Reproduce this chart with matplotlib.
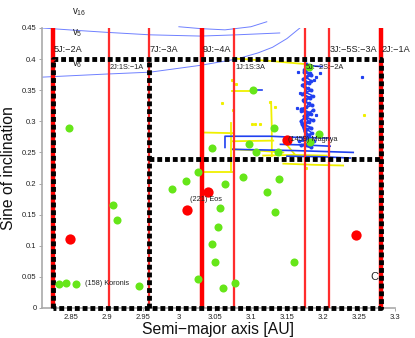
import numpy as np
import matplotlib
matplotlib.use("Agg")
import matplotlib.pyplot as plt

plt.rcParams['font.family'] = ['Liberation Sans', 'DejaVu Sans']

# resonances: position [AU], label, thick?, label height
res_a = [2.825, 2.903, 2.958, 3.032, 3.077, 3.175, 3.208, 3.280]
res_lab = ['5J:\u22122A', '2J:1S:\u22121A', '7J:\u22123A', '9J:\u22124A',
           '1J:1S:3A', '5J:\u22122S:\u22122A', '3J:\u22125S:\u22123A', '2J:\u22121A']
res_thick = [True, False, False, True, False, False, False, True]
res_laby = [0.416, 0.387, 0.416, 0.416, 0.387, 0.387, 0.416, 0.416]
res_small = [False, True, False, False, True, True, False, False]

# secular resonance curves
v5_a = [2.81, 2.86, 2.90, 2.96, 3.03, 3.08, 3.14]
v5_s = [0.450, 0.446, 0.443, 0.439, 0.437, 0.439, 0.442]
v6_a = [2.81, 2.90, 2.96, 3.03, 3.08, 3.11, 3.13, 3.15, 3.168]
v6_s = [0.371, 0.376, 0.379, 0.390, 0.400, 0.410, 0.419, 0.433, 0.450]
v16_a = [3.00, 3.03, 3.064, 3.10, 3.122]
v16_s = [0.452, 0.449, 0.447, 0.452, 0.460]

# family members
green_a = [2.848, 2.909, 2.914, 2.990, 3.010, 3.026, 2.834, 2.844, 2.857, 2.945,
           3.026, 3.046, 3.057, 3.055, 3.050, 3.078, 3.061, 3.134, 3.160, 3.046,
           3.064, 3.089, 3.139, 3.122, 3.097, 3.107, 3.132, 3.137, 3.195, 3.103,
           3.181, 3.182]
green_s = [0.290, 0.166, 0.142, 0.191, 0.204, 0.218, 0.0387, 0.0398, 0.0382, 0.0355,
           0.0463, 0.103, 0.160, 0.130, 0.0747, 0.0398, 0.0317, 0.155, 0.0747, 0.2575,
           0.1995, 0.210, 0.2075, 0.186, 0.263, 0.2505, 0.289, 0.251, 0.279, 0.350,
           0.387, 0.267]
red_a = [2.849, 3.011, 3.041, 3.150, 3.246]
red_s = [0.111, 0.158, 0.186, 0.270, 0.118]

names = ['(158) Koronis', '(221) Eos', '(1459) Magnya', 'C']
names_a = [2.870, 3.016, 3.152, 3.266]
names_s = [0.0387, 0.174, 0.271, 0.050]

# evolution tracks (yellow and blue)
yellow_tracks = [
    ([3.076, 3.127, 3.175], [0.401, 0.397, 0.392]),
    ([3.074, 3.103], [0.349, 0.349]),
    ([3.128, 3.129, 3.129], [0.331, 0.290, 0.244]),
    ([3.034, 3.074], [0.282, 0.281]),
    ([3.075, 3.131], [0.268, 0.269]),
    ([3.075, 3.110, 3.145], [0.255, 0.253, 0.250]),
    ([3.145, 3.190, 3.228], [0.232, 0.230, 0.229]),
    ([3.034, 3.074], [0.219, 0.219]),
    ([3.073, 3.073], [0.298, 0.219]),
    ([3.117, 3.160, 3.205], [0.245, 0.246, 0.245]),
    ([3.150, 3.160, 3.170], [0.262, 0.248, 0.236]),
]
yellow_dots_a = [3.074, 3.079, 3.127, 3.133, 3.112, 3.060, 3.075, 3.101, 3.105, 3.257, 3.040, 3.176]
yellow_dots_s = [0.366, 0.360, 0.331, 0.323, 0.295, 0.330, 0.318, 0.295, 0.296, 0.310, 0.190, 0.225]

blue_tracks = [
    ([3.064, 3.064, 3.100, 3.127, 3.168, 3.210], [0.258, 0.276, 0.276, 0.276, 0.274, 0.273]),
    ([3.075, 3.160, 3.242], [0.255, 0.253, 0.250]),
    ([3.141, 3.175, 3.210], [0.263, 0.262, 0.260]),
    ([3.150, 3.200, 3.238], [0.244, 0.243, 0.241]),
    ([3.103, 3.116], [0.350, 0.350]),
    ([3.185, 3.199], [0.389, 0.388]),
]
col_a = [3.176, 3.181, 3.174, 3.183, 3.172, 3.180, 3.173, 3.184, 3.171, 3.182,
         3.174, 3.185, 3.170, 3.181, 3.173, 3.186, 3.171, 3.183, 3.175, 3.180,
         3.172, 3.184, 3.170, 3.183, 3.169, 3.186]
col_s = [0.392, 0.386, 0.380, 0.374, 0.368, 0.362, 0.356, 0.350, 0.344, 0.338,
         0.332, 0.326, 0.320, 0.314, 0.308, 0.302, 0.296, 0.290, 0.284, 0.278,
         0.272, 0.266, 0.262, 0.258, 0.300, 0.318]
col2_a = [3.178, 3.173, 3.182, 3.176, 3.184, 3.171, 3.179, 3.175, 3.186, 3.172,
          3.180, 3.177, 3.169, 3.183, 3.176, 3.181, 3.174, 3.178, 3.185, 3.173,
          3.188, 3.167]
col2_s = [0.389, 0.383, 0.377, 0.371, 0.365, 0.359, 0.353, 0.347, 0.341, 0.335,
          0.329, 0.323, 0.317, 0.311, 0.305, 0.299, 0.293, 0.287, 0.281, 0.275,
          0.269, 0.268]
blue_dots_a = [3.254, 3.196, 3.191, 3.188, 3.166, 3.168, 3.190, 3.164]
blue_dots_s = [0.372, 0.378, 0.372, 0.366, 0.380, 0.345, 0.310, 0.322]

# dashed boxes
box_a = [[2.825, 2.825, 3.280, 3.280, 2.825], [2.958, 2.958], [2.958, 3.280]]
box_s = [[0.0, 0.400, 0.400, 0.0, 0.0], [0.0, 0.400], [0.240, 0.240]]

fig = plt.figure(figsize=(4.15, 3.38), dpi=100)
ax = fig.add_axes([0.1012, 0.0888, 0.8506, 0.8284])

blue_thin = '#6f80ff'
ax.plot(v5_a, v5_s, color=blue_thin, lw=0.7, zorder=1)
ax.plot(v6_a, v6_s, color=blue_thin, lw=0.7, zorder=1)
ax.plot(v16_a, v16_s, color=blue_thin, lw=0.7, clip_on=False, zorder=1)

for xa, ya in yellow_tracks:
    ax.plot(xa, ya, color='#f0f000', lw=1.3, zorder=2)
ax.plot(yellow_dots_a, yellow_dots_s, ls='none', marker='s', ms=1.2, color='#f0f000', zorder=2)

for xa, ya in blue_tracks:
    ax.plot(xa, ya, color='#2040f0', lw=1.2, zorder=3)
ax.plot(col_a, col_s, color='#2040f0', lw=1.4, marker='o', ms=2.9, mew=0, zorder=3)
ax.plot(col2_a, col2_s, color='#2040f0', lw=1.1, marker='o', ms=2.7, mew=0, zorder=3)
ax.plot(blue_dots_a, blue_dots_s, ls='none', marker='s', ms=1.3, color='#2040f0', zorder=3)

for a, lab, thick, ly, small in zip(res_a, res_lab, res_thick, res_laby, res_small):
    if thick:
        ax.plot([a, a], [0, 0.45], color='#ff0000', lw=3.2, zorder=4, solid_capstyle='butt')
    else:
        ax.plot([a, a], [0, 0.45], color='#ff0000', lw=1.6, zorder=4, solid_capstyle='butt')
        ax.plot([a, a], [0, 0.45], color='#ffb8b8', lw=0.35, zorder=4)
    ax.text(a + 0.0012, ly, lab, fontsize=5.3 if small else 6.6, va='center', ha='left',
            color='#222222', zorder=8)

for xa, ya in zip(box_a, box_s):
    ax.plot(xa, ya, color='black', lw=3.5, dashes=(1.0, 0.6), dash_capstyle='butt',
            zorder=5, clip_on=False)

ax.plot(green_a, green_s, ls='none', marker='o', ms=5.8, mew=0, color='#66e619', zorder=6)
ax.plot(red_a, red_s, ls='none', marker='o', ms=7.4, mew=0, color='#ff0000', zorder=7)

for nm, a, s in zip(names, names_a, names_s):
    ax.text(a, s, nm, fontsize=8 if nm == 'C' else 5.3, va='center', ha='left',
            color='#222222', zorder=8)

ax.text(2.852, 0.476, r'$\mathregular{v_{16}}$', fontsize=7, va='center', ha='left', color='#222222')
ax.text(2.852, 0.441, r'$\mathregular{v_{5}}$', fontsize=7, va='center', ha='left', color='#222222')
ax.text(2.852, 0.392, r'$\mathregular{v_{6}}$', fontsize=7, va='center', ha='left', color='#222222')

ax.set_xlim(2.81, 3.3)
ax.set_ylim(0, 0.45)
xt = [2.85, 2.9, 2.95, 3.0, 3.05, 3.1, 3.15, 3.2, 3.25, 3.3]
yt = [0, 0.05, 0.1, 0.15, 0.2, 0.25, 0.3, 0.35, 0.4, 0.45]
ax.set_xticks(xt)
ax.set_xticklabels(['2.85', '2.9', '2.95', '3', '3.05', '3.1', '3.15', '3.2', '3.25', '3.3'])
ax.set_yticks(yt)
ax.set_yticklabels(['0', '0.05', '0.1', '0.15', '0.2', '0.25', '0.3', '0.35', '0.4', '0.45'])
ax.tick_params(labelsize=5.5, length=2, width=0.6, color='#999999', labelcolor='#222222', pad=2)
for sp in ['top', 'right']:
    ax.spines[sp].set_visible(False)
for sp in ['left', 'bottom']:
    ax.spines[sp].set_color('#aaaaaa')
    ax.spines[sp].set_linewidth(1.2)

ax.set_xlabel('Semi\u2212major axis [AU]', fontsize=11.3, labelpad=1, color='#111111')
ax.set_ylabel('Sine of inclination', fontsize=11.3, labelpad=4, color='#111111')

fig.savefig('out.png', dpi=100)
